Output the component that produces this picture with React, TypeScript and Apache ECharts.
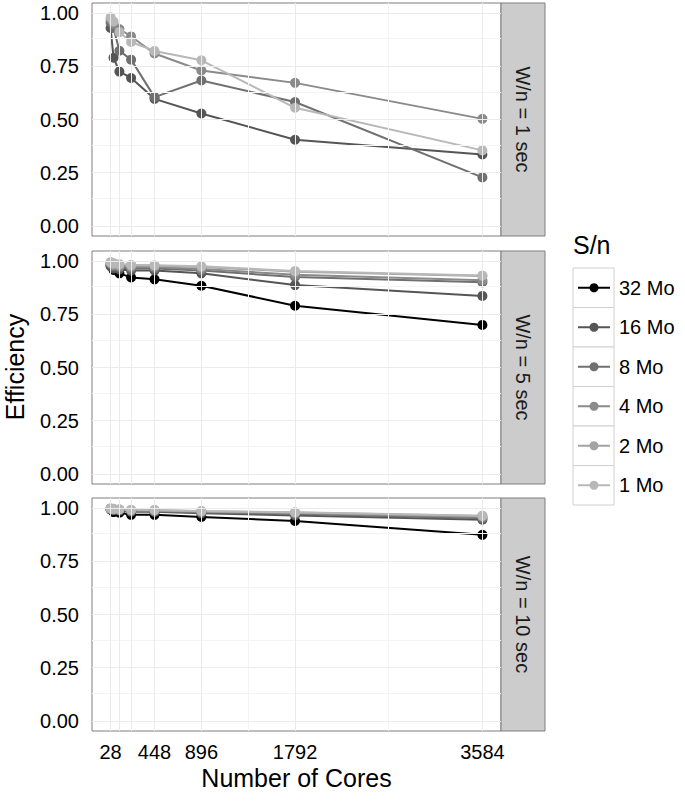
import React, { useEffect, useRef } from "react";
import * as echarts from "echarts";

// ---------- data ----------
const cores = [28, 56, 112, 224, 448, 896, 1792, 3584];
const sizeNames = ["32 Mo", "16 Mo", "8 Mo", "4 Mo", "2 Mo", "1 Mo"];
const panelNames = ["W/n = 1 sec", "W/n = 5 sec", "W/n = 10 sec"];
const xTickValues = [28, 448, 896, 1792, 3584];
const yTickValues = [0, 0.25, 0.5, 0.75, 1];

// W/n = 1 sec
const w1_32: (number | null)[] | null = null;
const w1_16 = [0.93, 0.79, 0.725, 0.695, 0.597, 0.528, 0.405, 0.336];
const w1_8 = [0.955, 0.93, 0.823, 0.781, 0.605, 0.683, 0.582, 0.228];
const w1_4 = [0.97, 0.95, 0.925, 0.89, 0.81, 0.73, 0.672, 0.503];
const w1_2: (number | null)[] | null = null;
const w1_1 = [0.98, 0.96, 0.91, 0.864, 0.822, 0.778, 0.555, 0.355];

// W/n = 5 sec
const w5_32 = [0.978, 0.958, 0.942, 0.923, 0.914, 0.884, 0.79, 0.7];
const w5_16 = [0.975, 0.965, 0.96, 0.955, 0.955, 0.942, 0.887, 0.836];
const w5_8 = [0.985, 0.975, 0.97, 0.965, 0.965, 0.955, 0.925, 0.9];
const w5_4 = [0.99, 0.98, 0.975, 0.972, 0.972, 0.963, 0.935, 0.91];
const w5_2 = [0.992, 0.985, 0.98, 0.978, 0.978, 0.972, 0.95, 0.93];
const w5_1 = [0.995, 0.99, 0.985, 0.982, 0.98, 0.975, 0.953, 0.932];

// W/n = 10 sec
const w10_32 = [0.993, 0.981, 0.978, 0.968, 0.968, 0.958, 0.939, 0.874];
const w10_16 = [0.995, 0.99, 0.988, 0.983, 0.982, 0.975, 0.965, 0.945];
const w10_8 = [0.996, 0.992, 0.99, 0.986, 0.985, 0.979, 0.972, 0.952];
const w10_4 = [0.997, 0.994, 0.992, 0.989, 0.988, 0.983, 0.976, 0.958];
const w10_2 = [0.998, 0.995, 0.993, 0.99, 0.99, 0.985, 0.979, 0.962];
const w10_1 = [0.998, 0.996, 0.994, 0.992, 0.991, 0.986, 0.98, 0.964];

const panelData = [
  [w1_32, w1_16, w1_8, w1_4, w1_2, w1_1],
  [w5_32, w5_16, w5_8, w5_4, w5_2, w5_1],
  [w10_32, w10_16, w10_8, w10_4, w10_2, w10_1],
];

// ---------- style ----------
const seriesColors = ["#000000", "#555555", "#707070", "#8a8a8a", "#a3a3a3", "#b8b8b8"];
const FONT = '"Liberation Sans", Arial, Helvetica, sans-serif';
const panelTops = [3, 251, 498];
const panelLeft = 92;
const panelWidth = 409;
const panelHeight = 233;
const stripWidth = 44;
const majorGridX = [28, 112, 224, 448, 896, 1792, 3584];
const minorGridX = [1344, 2688];
const minorGridY = [0.125, 0.375, 0.625, 0.875];

export default function App() {
  const ref = useRef<HTMLDivElement>(null);

  useEffect(() => {
    if (!ref.current) return;
    const chart = echarts.init(ref.current, null, { renderer: "svg" });

    const grid = panelTops.map((t) => ({
      left: panelLeft,
      top: t,
      width: panelWidth,
      height: panelHeight,
      show: true,
      backgroundColor: "#ffffff",
      borderColor: "#7f7f7f",
      borderWidth: 1,
    }));

    const xAxis = panelTops.map((_, i) => ({
      type: "value",
      gridIndex: i,
      min: -150,
      max: 3762,
      splitLine: { show: false },
      axisLine: { show: false },
      axisTick: {
        show: i === 2,
        customValues: xTickValues,
        length: 7,
        lineStyle: { color: "#333333", width: 1 },
      },
      axisLabel: {
        show: i === 2,
        customValues: xTickValues,
        formatter: (v: number) => String(v),
        margin: 11,
        fontSize: 20,
        color: "#000000",
        fontFamily: FONT,
      },
    }));

    const yAxis = panelTops.map((_, i) => ({
      type: "value",
      gridIndex: i,
      min: -0.047,
      max: 1.047,
      splitLine: { show: false },
      axisLine: { show: false },
      axisTick: {
        show: true,
        customValues: yTickValues,
        length: 7,
        lineStyle: { color: "#333333", width: 1 },
      },
      axisLabel: {
        show: true,
        customValues: yTickValues,
        formatter: (v: number) => v.toFixed(2),
        margin: 13,
        fontSize: 20,
        color: "#000000",
        fontFamily: FONT,
      },
    }));

    const series: any[] = [];
    panelTops.forEach((_, i) => {
      series.push({
        type: "line",
        xAxisIndex: i,
        yAxisIndex: i,
        data: [],
        silent: true,
        markLine: {
          silent: true,
          symbol: ["none", "none"],
          label: { show: false },
          animation: false,
          data: [
            ...minorGridY.map((v) => ({ yAxis: v, lineStyle: { color: "#f4f4f4", width: 1, type: "solid" } })),
            ...minorGridX.map((v) => ({ xAxis: v, lineStyle: { color: "#f4f4f4", width: 1, type: "solid" } })),
            ...yTickValues.map((v) => ({ yAxis: v, lineStyle: { color: "#ebebeb", width: 1, type: "solid" } })),
            ...majorGridX.map((v) => ({ xAxis: v, lineStyle: { color: "#ebebeb", width: 1, type: "solid" } })),
          ],
        },
      });
      panelData[i].forEach((vals, j) => {
        if (!vals) return;
        series.push({
          type: "line",
          name: sizeNames[j],
          xAxisIndex: i,
          yAxisIndex: i,
          data: cores.map((c, k) => [c, vals[k]]),
          symbol: "circle",
          symbolSize: 10,
          showSymbol: true,
          lineStyle: { width: 2, color: seriesColors[j] },
          itemStyle: { color: seriesColors[j] },
          z: 3,
        });
      });
    });

    const graphic: any[] = [];
    panelTops.forEach((t, i) => {
      graphic.push({
        type: "rect",
        shape: { x: panelLeft + panelWidth, y: t, width: stripWidth, height: panelHeight },
        style: { fill: "#cccccc", stroke: "#7f7f7f", lineWidth: 1 },
      });
      graphic.push({
        type: "text",
        x: panelLeft + panelWidth + stripWidth / 2,
        y: t + panelHeight / 2,
        rotation: -Math.PI / 2,
        style: {
          text: panelNames[i],
          fill: "#1a1a1a",
          font: `20px ${FONT}`,
          align: "center",
          verticalAlign: "middle",
          textAlign: "center",
          textVerticalAlign: "middle",
        },
      });
    });

    // axis titles
    graphic.push({
      type: "text",
      x: 15,
      y: (panelTops[0] + panelTops[2] + panelHeight) / 2,
      rotation: Math.PI / 2,
      style: {
        text: "Efficiency",
        fill: "#000000",
        font: `25px ${FONT}`,
        align: "center",
        verticalAlign: "middle",
        textAlign: "center",
        textVerticalAlign: "middle",
      },
    });
    graphic.push({
      type: "text",
      x: panelLeft + panelWidth / 2,
      y: 778,
      style: {
        text: "Number of Cores",
        fill: "#000000",
        font: `25px ${FONT}`,
        align: "center",
        verticalAlign: "middle",
        textAlign: "center",
        textVerticalAlign: "middle",
      },
    });

    // legend
    const legX = 573;
    const legY = 268;
    const keyH = 39.5;
    graphic.push({
      type: "text",
      x: legX,
      y: 245,
      style: {
        text: "S/n",
        fill: "#000000",
        font: `25px ${FONT}`,
        align: "left",
        verticalAlign: "middle",
        textAlign: "left",
        textVerticalAlign: "middle",
      },
    });
    sizeNames.forEach((name, j) => {
      const y0 = legY + j * keyH;
      const cy = y0 + keyH / 2;
      graphic.push({
        type: "rect",
        shape: { x: legX, y: y0, width: 41, height: keyH },
        style: { fill: "#ffffff", stroke: "#d0d0d0", lineWidth: 1 },
      });
      graphic.push({
        type: "line",
        shape: { x1: legX + 5, y1: cy, x2: legX + 37, y2: cy },
        style: { stroke: seriesColors[j], lineWidth: 2 },
      });
      graphic.push({
        type: "circle",
        shape: { cx: legX + 21, cy, r: 4.5 },
        style: { fill: seriesColors[j] },
      });
      graphic.push({
        type: "text",
        x: legX + 46,
        y: cy,
        style: {
          text: name,
          fill: "#000000",
          font: `20px ${FONT}`,
          align: "left",
          verticalAlign: "middle",
          textAlign: "left",
          textVerticalAlign: "middle",
        },
      });
    });

    chart.setOption({
      animation: false,
      backgroundColor: "#ffffff",
      grid,
      xAxis,
      yAxis,
      series,
      graphic,
    });

    return () => chart.dispose();
  }, []);

  return (
    <div
      ref={ref}
      style={{ position: "fixed", left: 0, top: 0, width: 685, height: 801 }}
    />
  );
}
